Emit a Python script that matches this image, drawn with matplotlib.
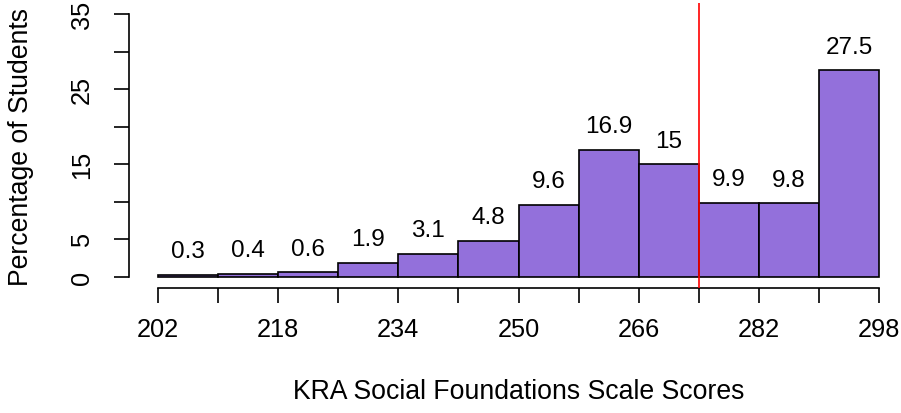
import matplotlib
matplotlib.use("Agg")
import matplotlib.pyplot as plt
import numpy as np

plt.rcParams['font.family'] = ['Liberation Sans', 'DejaVu Sans']

# Data
bin_edges = [202, 210, 218, 226, 234, 242, 250, 258, 266, 274, 282, 290, 298]
percentages = [0.3, 0.4, 0.6, 1.9, 3.1, 4.8, 9.6, 16.9, 15, 9.9, 9.8, 27.5]
bar_labels = ["0.3", "0.4", "0.6", "1.9", "3.1", "4.8", "9.6", "16.9", "15", "9.9", "9.8", "27.5"]
x_ticks = [202, 210, 218, 226, 234, 242, 250, 258, 266, 274, 282, 290, 298]
x_ticklabels = ["202", "", "218", "", "234", "", "250", "", "266", "", "282", "", "298"]
y_ticks = [0, 5, 10, 15, 20, 25, 30, 35]
y_ticklabels = ["0", "5", "", "15", "", "25", "", "35"]
cut_score = 274
xlabel = "KRA Social Foundations Scale Scores"
ylabel = "Percentage of Students"

W, H = 901, 414
fig = plt.figure(figsize=(W/100, H/100), dpi=100)

# plot region in px (R style with 4% padding)
xlo, xhi = 202 - 0.04*96, 298 + 0.04*96
ylo, yhi = -0.04*35, 35 + 0.04*35
ppx = (879 - 158) / 96.0
ppy = (278 - 15) / 35.0
left_px = 158 - (202 - xlo) * ppx
right_px = left_px + (xhi - xlo) * ppx
top_px = 278 - yhi * ppy
bot_px = 278 - ylo * ppy

ax = fig.add_axes([left_px / W, 1 - bot_px / H, (right_px - left_px) / W, (bot_px - top_px) / H])
ax.set_xlim(xlo, xhi)
ax.set_ylim(ylo, yhi)

edges = np.array(bin_edges)
widths = np.diff(edges)
ax.bar(edges[:-1], percentages, width=widths, align='edge', color='#9370DB',
       edgecolor='black', linewidth=1.2, zorder=2)

num_fs = 17.5
tick_fs = 18.3
title_fs = 19.2

for xl, xr, v, lab in zip(edges[:-1], edges[1:], percentages, bar_labels):
    ax.annotate(lab, xy=((xl + xr) / 2, v), xytext=(0, 17), textcoords='offset points',
                ha='center', va='center', fontsize=num_fs, color='black')

ax.axvline(cut_score, color='#FF0000', linewidth=1.2, zorder=3)

for s in ['top', 'right']:
    ax.spines[s].set_visible(False)
ax.spines['left'].set_bounds(0, 35)
ax.spines['bottom'].set_bounds(202, 298)
for s in ['left', 'bottom']:
    ax.spines[s].set_linewidth(1.2)

ax.set_xticks(x_ticks)
ax.set_xticklabels(x_ticklabels)
ax.set_yticks(y_ticks)
ax.set_yticklabels(y_ticklabels, rotation=90, va='center')
ax.tick_params(axis='both', direction='out', length=11, width=1.2, labelsize=tick_fs, colors='black')
ax.tick_params(axis='x', pad=10.5)
ax.tick_params(axis='y', pad=14.5)

fig.text(((left_px + right_px) / 2) / W, 1 - 392 / H, xlabel, ha='center', va='center', fontsize=title_fs)
fig.text(21 / W, 1 - ((top_px + bot_px) / 2) / H, ylabel, ha='center', va='center', rotation=90, fontsize=title_fs)

fig.savefig("out.png", dpi=100)
